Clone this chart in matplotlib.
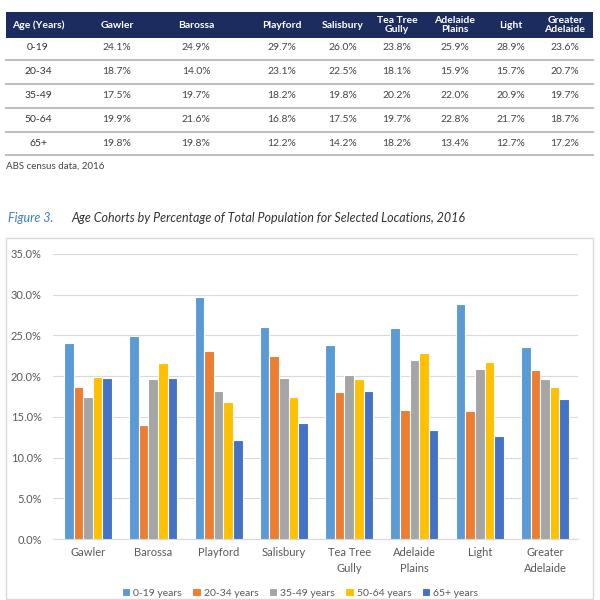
import matplotlib
matplotlib.use("Agg")
import matplotlib.pyplot as plt
from matplotlib.patches import Rectangle
from matplotlib.lines import Line2D
import numpy as np

plt.rcParams['font.family'] = ['Lato', 'DejaVu Sans']

locations = ["Gawler", "Barossa", "Playford", "Salisbury", "Tea Tree Gully",
             "Adelaide Plains", "Light", "Greater Adelaide"]
header_labels = ["Age (Years)", "Gawler", "Barossa", "Playford", "Salisbury",
                 "Tea Tree\nGully", "Adelaide\nPlains", "Light", "Greater\nAdelaide"]
tick_labels = ["Gawler", "Barossa", "Playford", "Salisbury", "Tea Tree\nGully",
               "Adelaide\nPlains", "Light", "Greater\nAdelaide"]
age_groups = ["0-19", "20-34", "35-49", "50-64", "65+"]
legend_labels = ["0-19 years", "20-34 years", "35-49 years", "50-64 years", "65+ years"]

age_0_19 = [24.1, 24.9, 29.7, 26.0, 23.8, 25.9, 28.9, 23.6]
age_20_34 = [18.7, 14.0, 23.1, 22.5, 18.1, 15.9, 15.7, 20.7]
age_35_49 = [17.5, 19.7, 18.2, 19.8, 20.2, 22.0, 20.9, 19.7]
age_50_64 = [19.9, 21.6, 16.8, 17.5, 19.7, 22.8, 21.7, 18.7]
age_65_plus = [19.8, 19.8, 12.2, 14.2, 18.2, 13.4, 12.7, 17.2]
series = [age_0_19, age_20_34, age_35_49, age_50_64, age_65_plus]

colors = ["#5B9BD5", "#ED7D31", "#A5A5A5", "#FFC000", "#4472C4"]

W, H = 600, 600
fig = plt.figure(figsize=(6, 6), dpi=100)
fig.patch.set_facecolor("white")

def fx(x):
    return x / W

def fy(y):
    return 1 - y / H

# ---------- Table ----------
col_x = [38, 117, 196, 282, 343, 397, 455, 511, 565]
fig.patches.append(Rectangle((fx(6), fy(38)), fx(587), 26 / H, transform=fig.transFigure,
                             facecolor="#1C2C5E", edgecolor="none"))
for x, lab in zip(col_x, header_labels):
    fig.text(fx(x), fy(25), lab, ha="center", va="center", color="white",
             fontsize=7.5, fontweight="bold", linespacing=1.0)

row_y = [48, 72, 96, 120, 143]
line_y = [60, 84, 108, 132, 155]
for i, (g, y) in enumerate(zip(age_groups, row_y)):
    fig.text(fx(col_x[0]), fy(y), g, ha="center", va="center", color="#333333", fontsize=7.5)
    for j in range(len(locations)):
        fig.text(fx(col_x[j + 1]), fy(y), f"{series[i][j]:.1f}%", ha="center", va="center",
                 color="#444444", fontsize=7.5)
for y in line_y:
    fig.lines.append(Line2D([fx(6), fx(593)], [fy(y), fy(y)], transform=fig.transFigure,
                            color="#BFBFBF", linewidth=1.5))

fig.text(fx(6), fy(166), "ABS census data, 2016", ha="left", va="center",
         color="#444444", fontsize=7)

fig.text(fx(8), fy(218), "Figure 3.", ha="left", va="center", color="#3C7FC1",
         fontsize=9, style="italic")
fig.text(fx(71), fy(218), "Age Cohorts by Percentage of Total Population for Selected Locations, 2016",
         ha="left", va="center", color="#333333", fontsize=9, style="italic")

# chart border
fig.patches.append(Rectangle((fx(6), fy(599)), fx(587), 361 / H, transform=fig.transFigure,
                             facecolor="none", edgecolor="#D9D9D9", linewidth=1))

# ---------- Chart ----------
ax = fig.add_axes([fx(53), fy(539), 525 / W, 285 / H])
x = np.arange(len(locations))
slot = 0.147
for k, (vals, c, lab) in enumerate(zip(series, colors, legend_labels)):
    ax.bar(x + (k - 2) * slot, vals, width=slot, color=c, edgecolor="white",
           linewidth=0.8, label=lab, zorder=3)

ax.set_xlim(-0.536, 7.504)
ax.set_ylim(0, 35)
ax.set_yticks(np.arange(0, 36, 5))
ax.set_yticklabels([f"{v:.1f}%" for v in np.arange(0, 36, 5)])
ax.set_xticks(x)
ax.set_xticklabels(tick_labels, linespacing=1.5)
ax.grid(axis="y", color="#D9D9D9", linewidth=0.8, zorder=0)
for s in ["top", "right", "left"]:
    ax.spines[s].set_visible(False)
ax.spines["bottom"].set_color("#D9D9D9")
ax.tick_params(axis="both", length=0, labelsize=8, colors="#595959")
ax.tick_params(axis="y", pad=8)
ax.tick_params(axis="x", pad=6)

fig.legend(loc="center", bbox_to_anchor=(0.5, fy(593)), ncol=5, frameon=False,
           fontsize=7.5, handlelength=0.8, handleheight=0.8, handletextpad=0.3,
           columnspacing=1.0, labelcolor="#595959")

fig.savefig("out.png", dpi=100, facecolor="white")
